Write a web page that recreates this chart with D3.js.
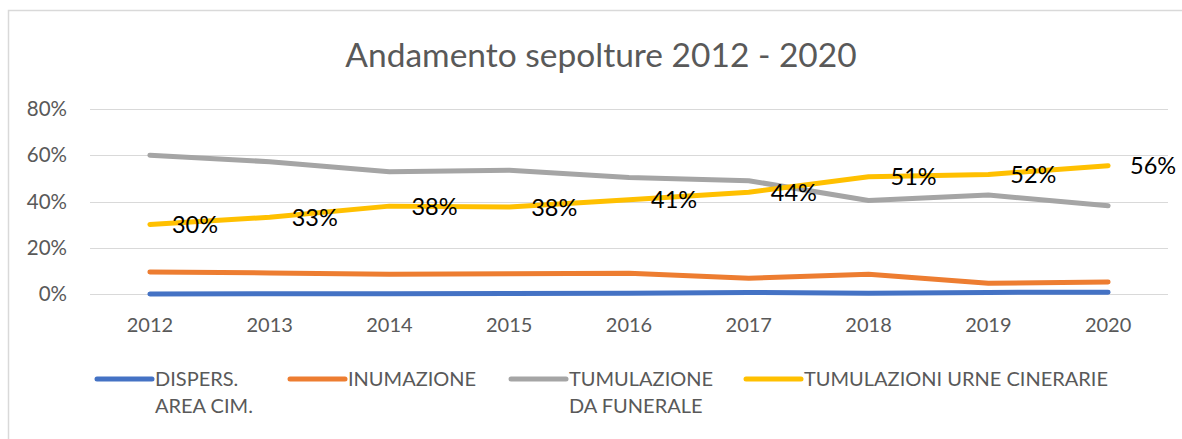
<!DOCTYPE html>
<html>
<head>
<meta charset="utf-8">
<script src="https://cdn.jsdelivr.net/npm/d3@7"></script>
<style>
  html, body { margin: 0; padding: 0; background: #fff; }
  svg { display: block; }
</style>
</head>
<body>
<svg id="chart" width="1182" height="439"></svg>
<script>
// ---- data ----
const years = ["2012","2013","2014","2015","2016","2017","2018","2019","2020"];
const dispersione = [0.0, 0.1, 0.1, 0.2, 0.3, 0.7, 0.3, 0.7, 0.8];
const inumazione = [9.5, 9.1, 8.5, 8.8, 9.0, 6.8, 8.5, 4.6, 5.2];
const tumulazioneFunerale = [60.0, 57.2, 52.9, 53.5, 50.4, 49.0, 40.4, 42.8, 38.2];
const tumulazioniUrne = [30.1, 33.2, 38.0, 37.6, 40.8, 44.0, 50.7, 51.7, 55.5];
const urneLabels = ["30%","33%","38%","38%","41%","44%","51%","52%","56%"];
const yTicks = [0, 20, 40, 60, 80];
const seriesNames = [["DISPERS.","AREA CIM."],["INUMAZIONE"],["TUMULAZIONE","DA FUNERALE"],["TUMULAZIONI URNE CINERARIE"]];
const titleText = "Andamento sepolture 2012 - 2020";

const series = [
  {values: dispersione, color: "#4472C4"},
  {values: inumazione, color: "#ED7D31"},
  {values: tumulazioneFunerale, color: "#A5A5A5"},
  {values: tumulazioniUrne, color: "#FFC000"}
];

const font = "Lato, 'Liberation Sans', sans-serif";
const svg = d3.select("#chart");

// chart border
svg.append("rect").attr("x", 8.5).attr("y", 10.5).attr("width", 1300).attr("height", 500)
  .attr("fill", "#fff").attr("stroke", "#d9d9d9").attr("stroke-width", 1.5);

// title
svg.append("text").attr("x", 601).attr("y", 67).attr("text-anchor", "middle")
  .attr("font-family", font).attr("font-size", 33.5).attr("fill", "#595959").text(titleText);

const x = d3.scaleBand().domain(years).range([90, 1168]);
const y = d3.scaleLinear().domain([0, 80]).range([294, 109]);

// gridlines
svg.append("g").selectAll("line").data(yTicks).join("line")
  .attr("x1", 90).attr("x2", 1168)
  .attr("y1", d => Math.round(y(d)) + 0.5).attr("y2", d => Math.round(y(d)) + 0.5)
  .attr("stroke", "#d9d9d9").attr("stroke-width", 1.2);

// y axis
const yAxis = d3.axisLeft(y).tickValues(yTicks).tickFormat(d => d + "%").tickSize(0).tickPadding(0);
const gy = svg.append("g").attr("transform", "translate(67,0)").call(yAxis);
gy.select(".domain").remove();
gy.selectAll("text").attr("font-family", font).attr("font-size", 20.5).attr("fill", "#595959");

// x axis
const xAxis = d3.axisBottom(x).tickSize(0).tickPadding(0);
const gx = svg.append("g").attr("transform", "translate(0,318)").call(xAxis);
gx.select(".domain").remove();
gx.selectAll("text").attr("font-family", font).attr("font-size", 20).attr("fill", "#595959").attr("dy", "0.71em");

// lines
const cx = d => x(d) + x.bandwidth() / 2;
const line = d3.line().x((d, i) => cx(years[i])).y(d => y(d));
svg.append("g").selectAll("path").data(series).join("path")
  .attr("d", s => line(s.values))
  .attr("fill", "none").attr("stroke", s => s.color).attr("stroke-width", 5)
  .attr("stroke-linecap", "round").attr("stroke-linejoin", "round");

// data labels (yellow series)
svg.append("g").selectAll("text").data(tumulazioniUrne).join("text")
  .attr("x", (d, i) => cx(years[i]) + 22).attr("y", d => y(d)).attr("dy", "0.36em")
  .attr("font-family", font).attr("font-size", 23.5).attr("fill", "#000")
  .text((d, i) => urneLabels[i]);

// legend
const legendX = [97, 290, 511, 746];
const lg = svg.append("g").selectAll("g").data(series).join("g")
  .attr("transform", (d, i) => `translate(${legendX[i]},379)`);
lg.append("line").attr("x1", 0).attr("x2", 55).attr("y1", 0).attr("y2", 0)
  .attr("stroke", d => d.color).attr("stroke-width", 5).attr("stroke-linecap", "round");
lg.each(function(d, i) {
  const t = d3.select(this).append("text").attr("font-family", font).attr("font-size", 20)
    .attr("fill", "#595959");
  seriesNames[i].forEach((ln, j) => {
    t.append("tspan").attr("x", 58).attr("y", j * 27).attr("dy", "0.36em").text(ln);
  });
});
</script>
</body>
</html>
